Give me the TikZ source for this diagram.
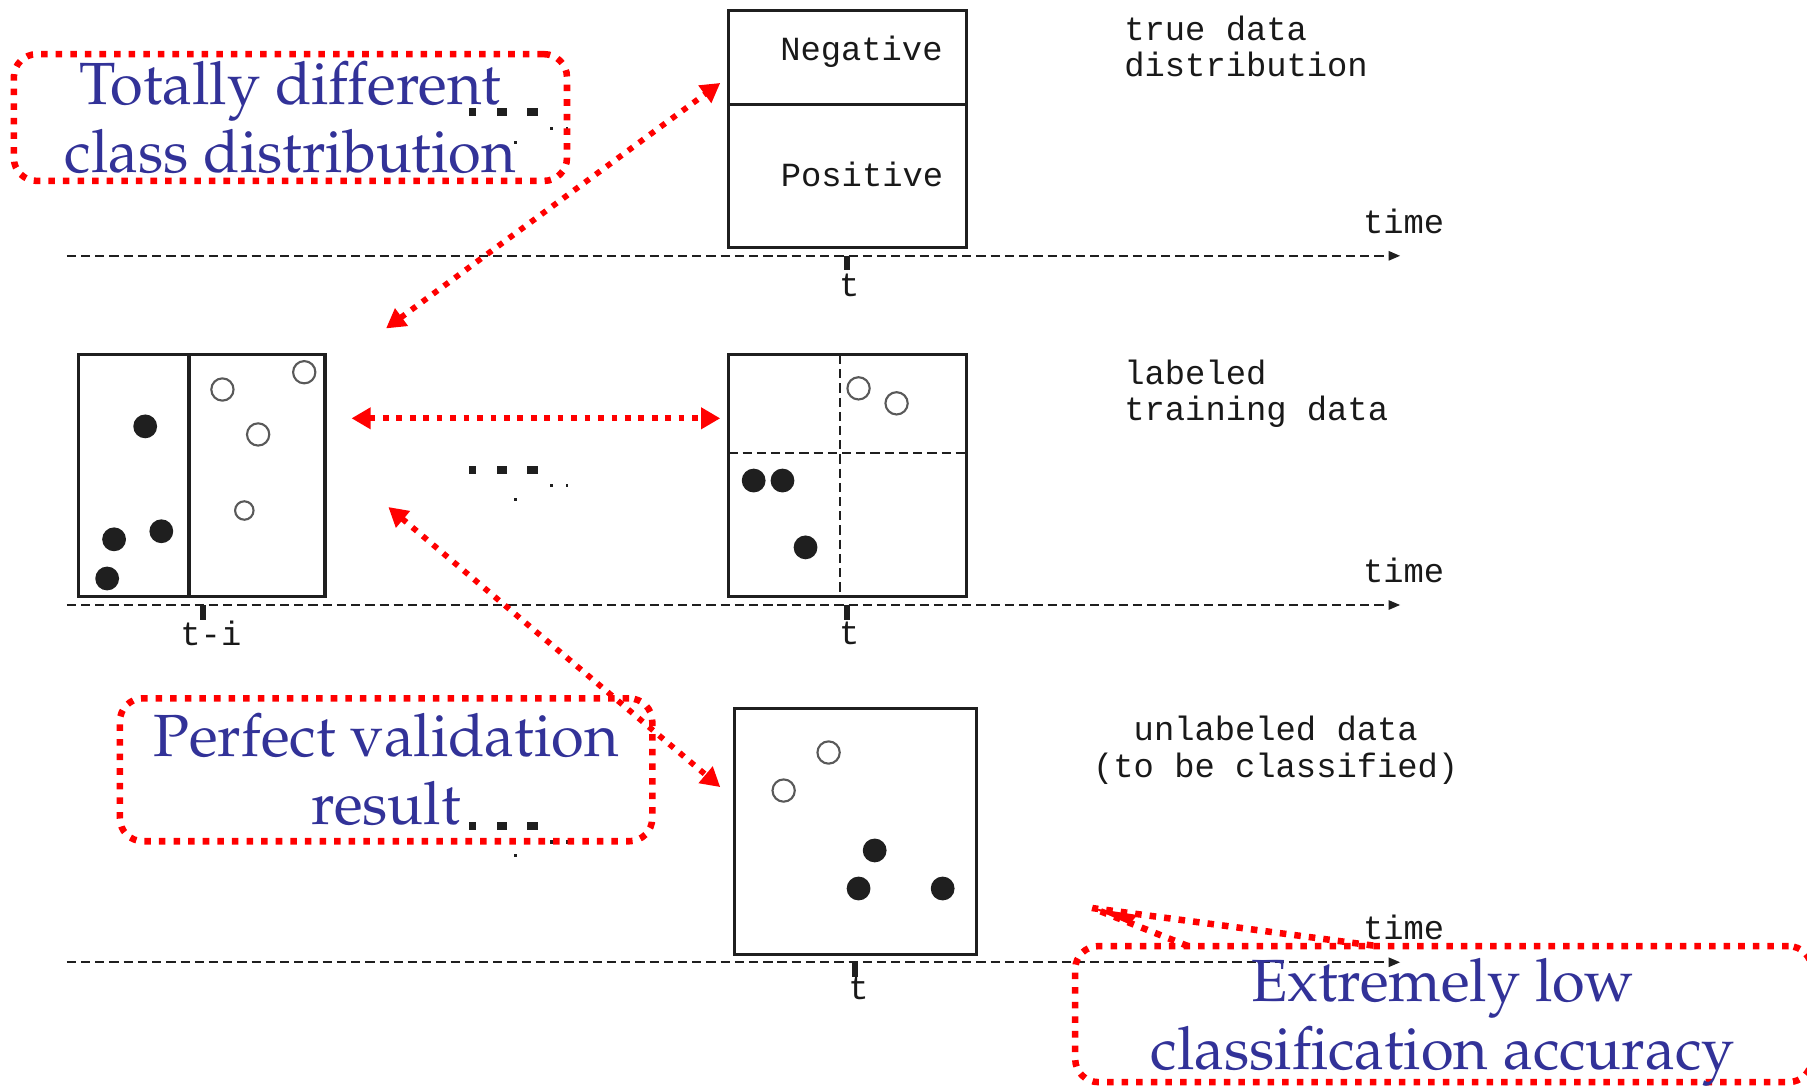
\documentclass[tikz,border=0pt]{standalone}
\usepackage[T1]{fontenc}
\usepackage{fontspec}
\newfontfamily\monof{Liberation Mono}
\newcommand\palfont{\fontencoding{T1}\fontfamily{ppl}\selectfont}
\usetikzlibrary{arrows.meta}
\definecolor{bluetxt}{RGB}{50,50,152}
\begin{document}
\begin{tikzpicture}[x=0.3pt,y=-0.3pt,
  box/.style={draw=black!88, line width=0.8pt, inner sep=0pt},
  mono/.style={font=\monof\fontsize{8.8}{9.4}\selectfont, text=black!90, inner sep=0pt},
  soliddot/.style={circle, fill=black!88, inner sep=0pt, minimum size=6.2pt},
  hollowdot/.style={circle, draw=black!65, line width=0.55pt, inner sep=0pt, minimum size=5.8pt},
  calloutbox/.style={draw=red, line width=1.7pt, dash pattern=on 1.7pt off 2.1pt, rounded corners=6pt, inner sep=0pt},
  callouttext/.style={inner sep=0pt, align=center, text=bluetxt, font=\palfont\fontsize{15.5}{17.7}\selectfont},
  callout/.style={calloutbox, callouttext},
  redarrow/.style={red, line width=1.5pt, dash pattern=on 1.5pt off 2pt, {Triangle[length=5pt,width=5.4pt]}-{Triangle[length=5pt,width=5.4pt]}},
  ptrline/.style={red, line width=1.7pt, dash pattern=on 1.7pt off 2.1pt, line join=bevel},
  timeline/.style={black!88, line width=0.5pt, dash pattern=on 2.4pt off 1.3pt, -{Triangle[length=3pt,width=2.4pt]}},
  tickmark/.style={black!88, line width=1.5pt},
  speck/.style={fill=black!88},
]
\useasboundingbox (0,0) rectangle (1568,944);

% ---------- timelines ----------
\coordinate (tl1s) at (58,222);  \coordinate (tl1e) at (1215,222);
\coordinate (tl2s) at (58,525);  \coordinate (tl2e) at (1215,525);
\coordinate (tl3s) at (58,835);  \coordinate (tl3e) at (1215,835);
\draw[timeline] (tl1s) -- (tl1e);
\draw[timeline] (tl2s) -- (tl2e);
\draw[timeline] (tl3s) -- (tl3e);
\draw[tickmark] (735,222) -- (735,234);
\draw[tickmark] (735,525) -- (735,538);
\draw[tickmark] (176,525) -- (176,538);
\draw[tickmark] (742,835) -- (742,848);
\node[mono] (t1) at (737,248) {t};
\node[mono] (t2) at (737,550) {t};
\node[mono] (ti) at (183,550) {t-i};
\node[mono] (t3) at (745,858) {t};
\node[mono] (time1) at (1218,192) {time};
\node[mono] (time2) at (1218,495) {time};
\node[mono] (time3) at (1218,805) {time};

% ---------- top box ----------
\node[box, minimum width=62.1pt, minimum height=61.8pt] (top) at (735.5,112) {};
\draw[black!88, line width=0.8pt] (632,91) -- (839,91);
\node[mono] (negl) at (747.5,45) {Negative};
\node[mono] (posl) at (748,151) {Positive};
\node[mono, anchor=west, align=left] (truel) at (975,40) {true data\\distribution};

% ---------- middle left box ----------
\node[box, minimum width=64.2pt, minimum height=63pt] (ml) at (175,413) {};
\draw[black!88, line width=0.8pt] (164,308) -- (164,518);
\node[soliddot] (f1) at (126,370) {};
\node[soliddot] (f2) at (99,468) {};
\node[soliddot] (f3) at (140,461) {};
\node[soliddot] (f4) at (93,502) {};
\node[hollowdot] (o1) at (193,338) {};
\node[hollowdot] (o2) at (264,323) {};
\node[hollowdot] (o3) at (224,377) {};
\node[hollowdot, minimum size=4.8pt] (o4) at (212,443) {};

% ---------- middle right box ----------
\node[box, minimum width=62.1pt, minimum height=63pt] (mr) at (735.5,413) {};
\draw[black!88, line width=0.6pt, dash pattern=on 2.4pt off 1.3pt] (729,308) -- (729,518);
\draw[black!88, line width=0.6pt, dash pattern=on 2.4pt off 1.3pt] (632,393) -- (839,393);
\node[hollowdot] (o5) at (745,337) {};
\node[hollowdot] (o6) at (778,350) {};
\node[soliddot] (f5) at (654,417) {};
\node[soliddot] (f6) at (679,417) {};
\node[soliddot] (f7) at (699,475) {};
\node[mono, anchor=west, align=left] (labl) at (975,342) {labeled\\training data};

% ---------- bottom box ----------
\node[box, minimum width=63pt, minimum height=63.9pt] (bt) at (742,721.5) {};
\node[hollowdot] (o7) at (719,653) {};
\node[hollowdot] (o8) at (680,686) {};
\node[soliddot] (f8) at (759,738) {};
\node[soliddot] (f9) at (745,771) {};
\node[soliddot] (f10) at (818,771) {};
\node[mono, align=center] (unl) at (1107,651) {unlabeled data\\(to be classified)};

% ---------- ellipsis specks ----------
\foreach \yy in {97,407,716} {
  \fill[speck] (407,\yy-3) rectangle (413,\yy+4);
  \fill[speck] (431,\yy-3) rectangle (440,\yy+4);
  \fill[speck] (457,\yy-3) rectangle (467,\yy+4);
  \fill[speck] (446,\yy+25) rectangle (449,\yy+28);
  \fill[speck] (477,\yy+13) rectangle (480,\yy+16);
  \fill[speck] (491,\yy+13) rectangle (493,\yy+16);
}

% ---------- red double arrows ----------
\coordinate (a1s) at (335,285); \coordinate (a1e) at (625,72);
\coordinate (a2s) at (305,363); \coordinate (a2e) at (625,363);
\coordinate (a3s) at (337,440); \coordinate (a3e) at (625,683);
\draw[redarrow] (a1s) -- (a1e);
\draw[redarrow] (a2s) -- (a2e);
\draw[redarrow] (a3s) -- (a3e);

% ---------- callouts ----------
\node[callout, minimum width=144pt, minimum height=33pt] (ca) at (252,102) {Totally different\\class distribution};
\node[callout, minimum width=138.6pt, minimum height=37.2pt] (cb) at (335,668) {Perfect validation\\result};
\node[calloutbox, minimum width=191.7pt, minimum height=35.4pt] (cc) at (1252.5,880) {};
\node[callouttext] (cctext) at (1252,887.5) {Extremely low\\classification accuracy};
\coordinate (ctip) at (948,788);
\coordinate (cb1) at (1031,821);
\coordinate (cb2) at (1195,821);
\draw[ptrline] (cb1) -- (ctip) -- (cb2);
\fill[red] (ctip) -- (987,794) -- (980,802) -- cycle;
\end{tikzpicture}
\end{document}
